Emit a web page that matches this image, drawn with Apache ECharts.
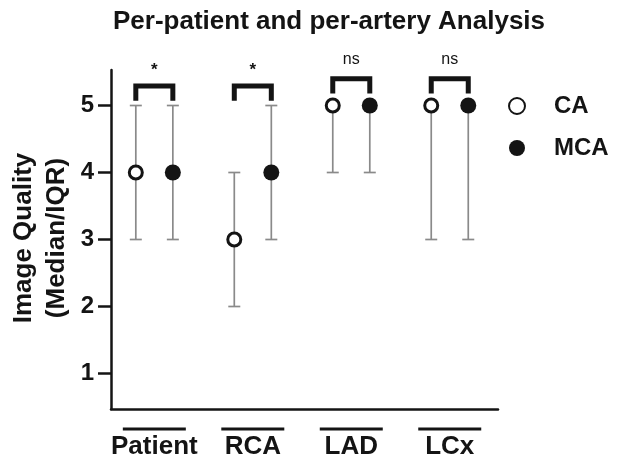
<!DOCTYPE html>
<html>
<head>
<meta charset="utf-8">
<script src="https://cdn.jsdelivr.net/npm/echarts@6/dist/echarts.min.js"></script>
<style>html,body{margin:0;padding:0;background:#fff;}#chart{width:619px;height:458px;}</style>
</head>
<body>
<div id="chart"></div>
<script>
// ---- data ----
const categories = ['Patient', 'RCA', 'LAD', 'LCx'];
const caMedian = [4, 3, 5, 5];
const caLow = [3, 2, 4, 3];
const caHigh = [5, 4, 5, 5];
const mcaMedian = [4, 4, 5, 5];
const mcaLow = [3, 3, 4, 3];
const mcaHigh = [5, 5, 5, 5];
const significance = ['*', '*', 'ns', 'ns'];
const yTicks = [1, 2, 3, 4, 5];
const yAxisTitle = 'Image Quality\n(Median/IQR)';

const OFF = 0.188;
const FONT = 'Liberation Sans, Arial, sans-serif';
const INK = '#141414';

const caPts = caMedian.map((v, i) => [i - OFF, v]);
const mcaPts = mcaMedian.map((v, i) => [i + OFF, v]);
const caErr = caLow.map((lo, i) => [i - OFF, lo, caHigh[i]]);
const mcaErr = mcaLow.map((lo, i) => [i + OFF, lo, mcaHigh[i]]);
const brackets = significance.map((s, i) => {
  const hi = Math.max(caHigh[i], mcaHigh[i]);
  const pointOnTop = caMedian[i] === hi || mcaMedian[i] === hi;
  return [i, hi + (pointOnTop ? 0.18 : 0.07)];
});

function errItem(params, api) {
  const x = api.value(0);
  const lo = api.coord([x, api.value(1)]);
  const hi = api.coord([x, api.value(2)]);
  const cap = 6;
  const style = { stroke: '#8a8a8a', lineWidth: 1.7, fill: null };
  return {
    type: 'group',
    children: [
      { type: 'line', shape: { x1: lo[0], y1: lo[1], x2: hi[0], y2: hi[1] }, style },
      { type: 'line', shape: { x1: lo[0] - cap, y1: lo[1], x2: lo[0] + cap, y2: lo[1] }, style },
      { type: 'line', shape: { x1: hi[0] - cap, y1: hi[1], x2: hi[0] + cap, y2: hi[1] }, style }
    ]
  };
}

function bracketItem(params, api) {
  const c = api.value(0);
  const base = api.value(1);
  const label = significance[params.dataIndex];
  const l = api.coord([c - OFF, base]);
  const r = api.coord([c + OFF, base]);
  const t = api.coord([c, base + 0.22]);
  const isStar = label === '*';
  return {
    type: 'group',
    children: [
      { type: 'polyline', shape: { points: [[l[0], l[1]], [l[0], t[1]], [r[0], t[1]], [r[0], r[1]]] },
        style: { stroke: INK, lineWidth: 5, fill: null, lineJoin: 'miter', lineCap: 'butt' } },
      { type: 'text', x: t[0], y: t[1] - (isStar ? 16 : 19),
        style: { text: label, fill: INK, font: (isStar ? 'bold 17px ' : '16px ') + FONT,
          align: 'center', verticalAlign: 'middle' } }
    ]
  };
}

const chart = echarts.init(document.getElementById('chart'), null, { renderer: 'canvas' });
chart.setOption({
  animation: false,
  backgroundColor: '#fff',
  title: {
    text: 'Per-patient and per-artery Analysis',
    left: 108, top: 4,
    textStyle: { fontFamily: FONT, fontWeight: 'bold', fontSize: 26, color: INK }
  },
  legend: {
    orient: 'vertical',
    left: 503, top: 89,
    itemGap: 18,
    itemWidth: 16, itemHeight: 16,
    textStyle: { fontFamily: FONT, fontWeight: 'bold', fontSize: 24, lineHeight: 24, color: INK, padding: [0, 0, 0, 24] },
    data: ['CA', 'MCA']
  },
  graphic: [{
    type: 'text', x: 40, y: 238, rotation: Math.PI / 2, silent: true,
    style: { text: yAxisTitle, fill: INK, font: 'bold 26px ' + FONT, lineHeight: 33,
      align: 'center', verticalAlign: 'middle' }
  }],
  grid: { left: 111, right: 121, top: 70, bottom: 49, containLabel: false, outerBoundsMode: 'none' },
  xAxis: {
    type: 'value', min: -0.44, max: 3.49,
    axisLine: { show: true, onZero: false, lineStyle: { color: INK, width: 2.5 } },
    axisTick: { show: false },
    splitLine: { show: false },
    axisLabel: {
      customValues: [0, 1, 2, 3],
      margin: 16,
      formatter: v => '{bar|}\n{t|' + categories[Math.round(v)] + '}',
      rich: {
        bar: { width: 63, height: 3, backgroundColor: INK, lineHeight: 8 },
        t: { fontFamily: FONT, fontWeight: 'bold', fontSize: 26, color: INK, lineHeight: 28 }
      }
    }
  },
  yAxis: {
    type: 'value', min: 0.47, max: 5.53,
    axisLine: { show: true, onZero: false, lineStyle: { color: INK, width: 2.5 } },
    axisTick: { show: true, customValues: yTicks, length: 13, lineStyle: { color: INK, width: 2.5 } },
    axisLabel: { customValues: yTicks, fontFamily: FONT, fontWeight: 'bold', fontSize: 24, color: INK, margin: 17 },
    splitLine: { show: false }
  },
  series: [
    { name: 'CA err', type: 'custom', renderItem: errItem, data: caErr, z: 1, silent: true },
    { name: 'MCA err', type: 'custom', renderItem: errItem, data: mcaErr, z: 1, silent: true },
    { name: 'CA', type: 'scatter', data: caPts, symbol: 'circle', symbolSize: 13, z: 3,
      itemStyle: { color: '#fff', borderColor: INK, borderWidth: 3, opacity: 1 } },
    { name: 'MCA', type: 'scatter', data: mcaPts, symbol: 'circle', symbolSize: 16, z: 3,
      itemStyle: { color: INK, opacity: 1 } },
    { name: 'sig', type: 'custom', renderItem: bracketItem, data: brackets, clip: false, z: 4, silent: true }
  ]
});
</script>
</body>
</html>
